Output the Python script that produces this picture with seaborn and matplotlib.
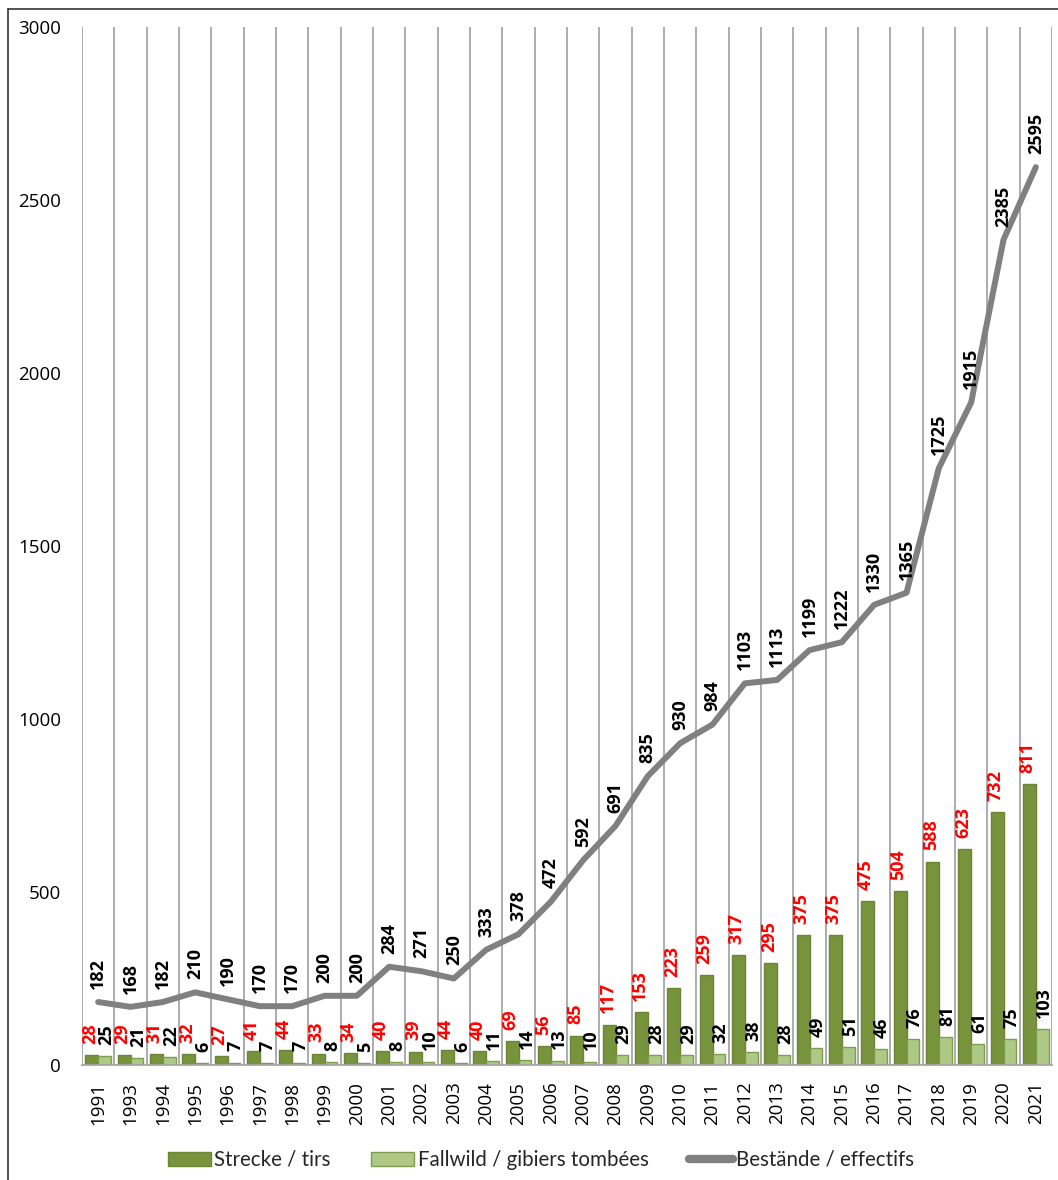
import numpy as np
import pandas as pd
import matplotlib
matplotlib.use("Agg")
import matplotlib.pyplot as plt
from matplotlib.lines import Line2D
from matplotlib.patches import Patch
import seaborn as sns

years = ["1991", "1993", "1994", "1995", "1996", "1997", "1998", "1999", "2000",
         "2001", "2002", "2003", "2004", "2005", "2006", "2007", "2008", "2009",
         "2010", "2011", "2012", "2013", "2014", "2015", "2016", "2017", "2018",
         "2019", "2020", "2021"]
strecke = [28, 29, 31, 32, 27, 41, 44, 33, 34, 40, 39, 44, 40, 69, 56, 85, 117,
           153, 223, 259, 317, 295, 375, 375, 475, 504, 588, 623, 732, 811]
fallwild = [25, 21, 22, 6, 7, 7, 7, 8, 5, 8, 10, 6, 11, 14, 13, 10, 29, 28, 29,
            32, 38, 28, 49, 51, 46, 76, 81, 61, 75, 103]
bestaende = [182, 168, 182, 210, 190, 170, 170, 200, 200, 284, 271, 250, 333,
             378, 472, 592, 691, 835, 930, 984, 1103, 1113, 1199, 1222, 1330,
             1365, 1725, 1915, 2385, 2595]

lbl_strecke = "Strecke / tirs"
lbl_fallwild = "Fallwild / gibiers tombées"
lbl_bestand = "Bestände / effectifs"

c_dark = "#77933C"
c_light = "#ADC985"
c_line = "#808080"
c_grid = "#A6A6A6"

sns.set_theme(style="white")
plt.rcParams["font.family"] = ["Open Sans", "DejaVu Sans"]

df = pd.DataFrame({
    "year": years * 2,
    "value": strecke + fallwild,
    "serie": [lbl_strecke] * len(years) + [lbl_fallwild] * len(years),
})

fig = plt.figure(figsize=(10.58, 11.8), dpi=100)
ax = fig.add_axes([82 / 1058, 115 / 1180, (1052 - 82) / 1058, (1065 - 27) / 1180])

sns.barplot(data=df, x="year", y="value", hue="serie", order=years,
            hue_order=[lbl_strecke, lbl_fallwild],
            palette=[c_dark, c_light], width=0.79, gap=0, ax=ax,
            saturation=1, legend=False)
edge_cols = ["#6A8536", "#7E9D4E"]
for cont, ec in zip(ax.containers, edge_cols):
    for bar in cont:
        bar.set_edgecolor(ec)
        bar.set_linewidth(1.0)

x = np.arange(len(years))
sns.lineplot(x=x, y=bestaende, ax=ax, color=c_line, linewidth=4.3,
             solid_capstyle="round", solid_joinstyle="round", zorder=4)

# value labels (pairs nudged slightly apart so they do not collide)
lab_size = 13
anns_s = ax.bar_label(ax.containers[0], labels=[str(v) for v in strecke],
                      padding=8, rotation=90, color="#FF0000",
                      fontweight="bold", fontsize=lab_size)
anns_f = ax.bar_label(ax.containers[1], labels=[str(v) for v in fallwild],
                      padding=8, rotation=90, color="black",
                      fontweight="bold", fontsize=lab_size)
for a in anns_s:
    a.xyann = (-1.2, 8)
for a in anns_f:
    a.xyann = (1.2, 8)
for xi, v in zip(x, bestaende):
    ax.annotate(str(v), (xi, v), xytext=(0, 9.5), textcoords="offset points",
                rotation=90, ha="center", va="bottom", fontsize=lab_size,
                fontweight="bold", color="black", zorder=5)

ax.set_xlim(-0.5, len(years) - 0.5)
ax.set_ylim(0, 3000)
ax.set_yticks(np.arange(0, 3001, 500))
ax.set_xlabel("")
ax.set_ylabel("")
ax.tick_params(axis="y", length=0, pad=15, labelsize=13.5)
ax.tick_params(axis="x", length=0, pad=12, labelsize=13.5, rotation=90)
for t in ax.get_yticklabels() + ax.get_xticklabels():
    t.set_color("black")

# category separators
ax.set_xticks(np.arange(-0.5, len(years), 1.0), minor=True)
ax.grid(False)
ax.grid(True, which="minor", axis="x", color=c_grid, linewidth=1.3)
ax.tick_params(which="minor", length=0)
for side in ["top", "right", "left"]:
    ax.spines[side].set_visible(False)
ax.spines["bottom"].set_color(c_grid)
ax.spines["bottom"].set_linewidth(1.3)

handles = [
    Patch(facecolor=c_dark, edgecolor=edge_cols[0], label=lbl_strecke),
    Patch(facecolor=c_light, edgecolor=edge_cols[1], label=lbl_fallwild),
    Line2D([0], [0], color=c_line, linewidth=6, solid_capstyle="round",
           label=lbl_bestand),
]
fig.legend(handles=handles, loc="center", bbox_to_anchor=(0.511, 0.017),
           ncol=3, frameon=False, handlelength=2.1, handleheight=0.65,
           handletextpad=0.15, columnspacing=2.0,
           prop={"family": ["Lato", "DejaVu Sans"], "size": 14.8})

# outer frame
fig.add_artist(Line2D([8 / 1058, 8 / 1058], [0, 1 - 9 / 1180],
                      transform=fig.transFigure, color="#333333", linewidth=1.2))
fig.add_artist(Line2D([8 / 1058, 1], [1 - 9 / 1180, 1 - 9 / 1180],
                      transform=fig.transFigure, color="#333333", linewidth=1.2))

fig.savefig("out.png", dpi=100, facecolor="white")
